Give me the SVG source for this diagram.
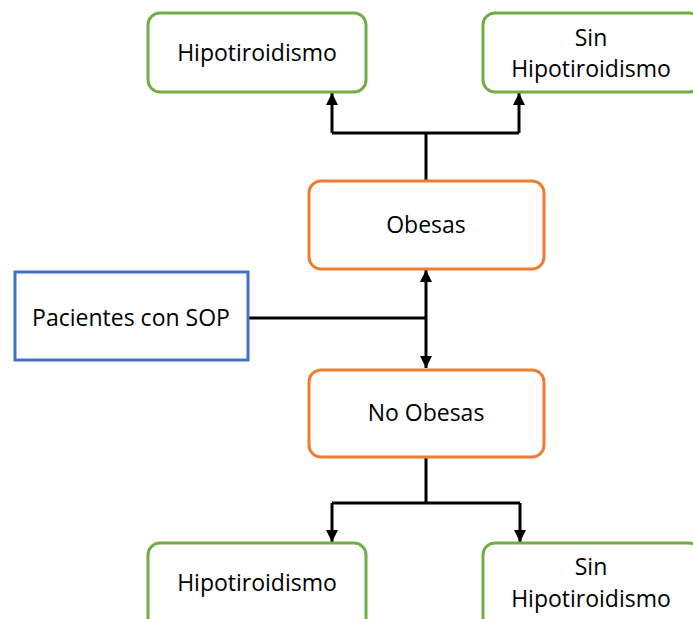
<svg xmlns="http://www.w3.org/2000/svg" width="693" height="619" viewBox="0 0 693 619">
<style>
.g{fill:#fff;stroke:#70AD47;stroke-width:3}
.o{fill:#fff;stroke:#ED7D31;stroke-width:3}
.b{fill:#fff;stroke:#4472C4;stroke-width:3}
text{font-family:"Open Sans","Noto Sans",sans-serif;font-size:23px;fill:#000;text-anchor:middle}
.c{fill:none;stroke:#000;stroke-width:3}
</style>
<defs>
<marker id="ah" viewBox="0 0 10 10" refX="10" refY="5" markerWidth="4" markerHeight="4" orient="auto" markerUnits="strokeWidth"><path d="M0,0L10,5L0,10z" fill="#000"/></marker>
</defs>
<rect width="693" height="619" fill="#fff"/>
<g id="connectors">
<path class="c" d="M426,181V133M332,133H519" />
<path class="c" d="M332,133V93" marker-end="url(#ah)"/>
<path class="c" d="M519,133V93" marker-end="url(#ah)"/>
<path class="c" d="M248,318H426"/>
<path class="c" d="M426,318V270" marker-end="url(#ah)"/>
<path class="c" d="M426,318V368" marker-end="url(#ah)"/>
<path class="c" d="M426,457V503M332,503H520"/>
<path class="c" d="M332,503V542" marker-end="url(#ah)"/>
<path class="c" d="M520,503V542" marker-end="url(#ah)"/>
</g>
<g id="hipo-top"><rect class="g" x="148" y="13" width="218" height="79" rx="12"/><text x="257" y="61">Hipotiroidismo</text></g>
<g id="sinhipo-top"><rect class="g" x="483" y="13" width="218" height="79" rx="12"/><text x="591" y="46">Sin</text><text x="591" y="77">Hipotiroidismo</text></g>
<g id="obesas"><rect class="o" x="309" y="181" width="235" height="88" rx="12"/><text x="426" y="233">Obesas</text></g>
<g id="pacientes"><rect class="b" x="15" y="272" width="233" height="88"/><text x="131" y="326">Pacientes con SOP</text></g>
<g id="noobesas"><rect class="o" x="309" y="370" width="235" height="87" rx="12"/><text x="426" y="421">No Obesas</text></g>
<g id="hipo-bot"><rect class="g" x="148" y="543" width="218" height="90" rx="12"/><text x="257" y="591">Hipotiroidismo</text></g>
<g id="sinhipo-bot"><rect class="g" x="483" y="543" width="218" height="90" rx="12"/><text x="591" y="575">Sin</text><text x="591" y="607">Hipotiroidismo</text></g>
</svg>
